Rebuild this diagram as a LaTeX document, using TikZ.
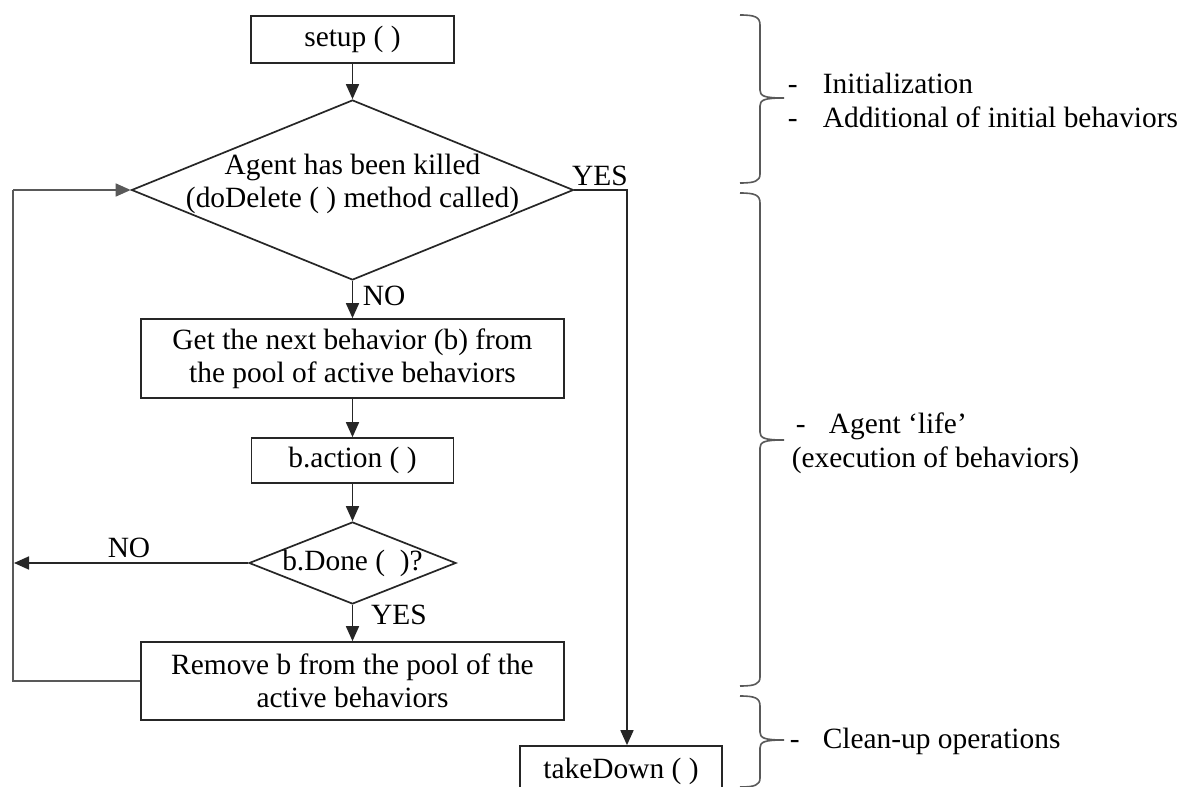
\documentclass[tikz,border=0pt]{standalone}
\usepackage{fontspec}
\setmainfont{Liberation Serif}
\usetikzlibrary{arrows.meta,shapes.geometric}
\begin{document}
\begin{tikzpicture}[x=0.5pt,y=-0.5pt,
  font=\fontsize{14.7pt}{16.5pt}\selectfont,
  line width=0.85pt,
  stepbox/.style={draw=black!85, rectangle, inner sep=0pt, align=center},
  decision/.style={draw=black!85, diamond, inner sep=0pt},
  flow/.style={draw=black!85, -{Triangle[length=7.5pt,width=6.5pt]}},
  loopline/.style={draw=black!65},
  brace/.style={draw=black!65, line width=0.8pt},
  lbl/.style={inner sep=0pt}]
\fill[white] (0,0) rectangle (1191,787);
\useasboundingbox (0,0) rectangle (1191,787);

% flowchart nodes
\node[stepbox, minimum width=101.5pt, minimum height=23.5pt] (setup) at (352.5,39.5) {setup ( )};
\node[decision, minimum width=221pt, minimum height=90pt,
  label={[yshift=3pt,align=center,lbl]center:Agent has been killed\\(doDelete ( ) method called)}] (d1) at (352.5,190) {};
\node[stepbox, minimum width=211.5pt, minimum height=39.5pt] (get) at (352.5,358.5) {Get the next behavior (b) from\\the pool of active behaviors};
\node[stepbox, minimum width=101pt, minimum height=22.5pt] (act) at (352.5,460.5) {b.action ( )};
\node[decision, minimum width=103.5pt, minimum height=41pt,
  label={[lbl]center:b.Done (\ \ )?}] (d2) at (352.5,563) {};
\node[stepbox, minimum width=211.5pt, minimum height=39pt] (rem) at (352.5,681) {Remove b from the pool of the\\active behaviors};
\node[stepbox, minimum width=101pt, minimum height=25pt] (take) at (621,771) {takeDown ( )};

\coordinate (noEnd) at (14,563);
\coordinate (loopCorner) at (13,681);
\coordinate (yesCorner) at (627,190);

% connectors
\draw[flow] (setup) -- (d1.north);
\draw[flow] (d1.south) -- (get.north);
\draw[flow] (get) -- (act.north);
\draw[flow] (act) -- (d2.north);
\draw[flow] (d2.south) -- (rem.north);
\draw[flow] (d2.west) -- (noEnd);
\draw[loopline] (rem.west) -- (loopCorner) -- (loopCorner |- d1.west);
\draw[flow, draw=black!65] (loopCorner |- d1.west) -- (d1.west);
\draw[flow] (d1.east) -- (yesCorner) -- (yesCorner |- take.north);

% connector labels
\node[lbl, anchor=west] (noA) at (362,296) {NO};
\node[lbl, anchor=base] (yesA) at (600,185) {YES};
\node[lbl] (noB) at (129,548) {NO};
\node[lbl] (yesB) at (399,615) {YES};

% braces
\draw[brace] (740,15) .. controls (755,15) and (760,17) .. (760,25) -- (760,90)
  .. controls (760,96) and (764,98) .. (784,98)
  .. controls (764,98) and (760,100) .. (760,106) -- (760,174)
  .. controls (760,181) and (755,183) .. (740,183);
\draw[brace] (740,193) .. controls (755,193) and (760,195) .. (760,203) -- (760,432)
  .. controls (760,438) and (764,440) .. (784,440)
  .. controls (764,440) and (760,442) .. (760,448) -- (760,677)
  .. controls (760,684) and (755,686) .. (740,686);
\draw[brace] (740,696) .. controls (755,696) and (760,698) .. (760,706) -- (760,732)
  .. controls (760,738) and (764,740) .. (784,740)
  .. controls (764,740) and (760,742) .. (760,748) -- (760,778)
  .. controls (760,785) and (755,787) .. (740,787);

% side texts
\node[lbl, anchor=base west] (t1) at (787,93) {\makebox[17.5pt][l]{-}Initialization};
\node[lbl, anchor=base west] (t2) at (787,127) {\makebox[17.5pt][l]{-}Additional of initial behaviors};
\node[lbl, anchor=base west] (t3) at (795,433) {\makebox[16.5pt][l]{-}Agent ‘life’};
\node[lbl, anchor=base west] (t4) at (791,467) {(execution of behaviors)};
\node[lbl, anchor=base west] (t5) at (789,748) {\makebox[16.5pt][l]{-}Clean-up operations};
\end{tikzpicture}
\end{document}
